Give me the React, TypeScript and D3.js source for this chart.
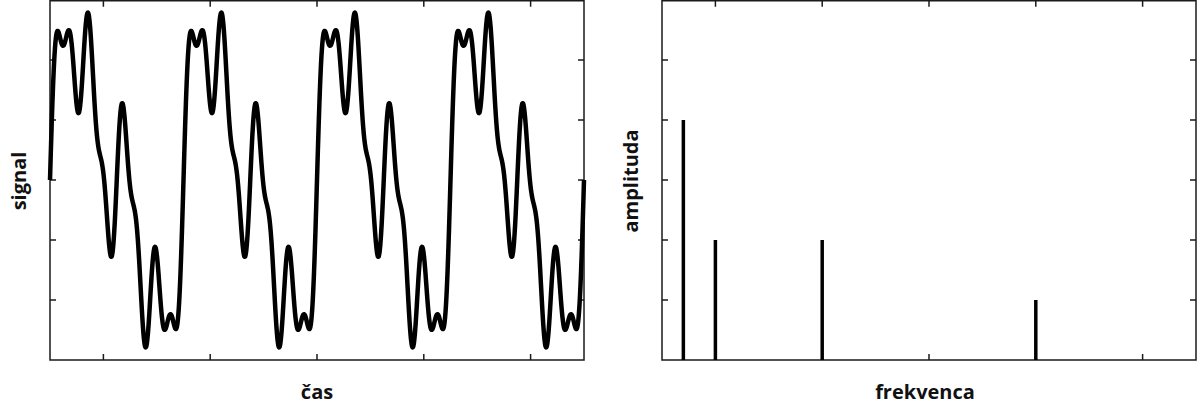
import * as React from 'react';
import * as d3 from 'd3';

// signal = sum of sines: harmonics of the base frequency and their amplitudes
const baseFreq = 4; // cycles over the time window
const harmonics = [1, 2, 4, 8];
const harmonicAmps = [4, 2, 2, 1];

// spectrum spikes as drawn on the right
const spectrumFreqs = [4, 10, 30, 70];
const spectrumAmps = [4, 2, 2, 1];

const timeTicks = [0.1, 0.3, 0.5, 0.7, 0.9];
const signalTicks = [-4, -2, 0, 2, 4];
const freqTicks = [10, 30, 50, 70, 90];
const ampTicks = [1, 2, 3, 4, 5];

const W = 1200, H = 414;
const top = 0.75, bottom = 360;
const leftPanel = { x0: 50, x1: 584 };
const rightPanel = { x0: 662, x1: 1196 };
const font = '"Open Sans", "DejaVu Sans", sans-serif';

function Frame({ x0, x1, xs, ys, xScale, yScale }: any) {
  const tl = 6;
  return (
    <g stroke="#1a1a1a" strokeWidth={1.5} fill="none">
      <rect x={x0} y={top} width={x1 - x0} height={bottom - top} />
      {xs.map((t: number, i: number) => (
        <g key={'x' + i}>
          <line x1={xScale(t)} x2={xScale(t)} y1={bottom} y2={bottom - tl} />
          <line x1={xScale(t)} x2={xScale(t)} y1={top} y2={top + tl} />
        </g>
      ))}
      {ys.map((t: number, i: number) => (
        <g key={'y' + i}>
          <line x1={x0} x2={x0 + tl} y1={yScale(t)} y2={yScale(t)} />
          <line x1={x1} x2={x1 - tl} y1={yScale(t)} y2={yScale(t)} />
        </g>
      ))}
    </g>
  );
}

export default function App() {
  const xTime = d3.scaleLinear().domain([0, 1]).range([leftPanel.x0, leftPanel.x1]);
  const ySig = d3.scaleLinear().domain([-6, 6]).range([bottom, 0]);
  const xFreq = d3.scaleLinear().domain([0, 100]).range([rightPanel.x0, rightPanel.x1]);
  const yAmp = d3.scaleLinear().domain([0, 6]).range([bottom, 0]);

  const times = d3.range(0, 1.0005, 0.0005);
  const signal = times.map(t => [
    t,
    d3.sum(harmonics, (h, i) => harmonicAmps[i] * Math.sin(2 * Math.PI * baseFreq * h * t)),
  ]);
  const line = d3.line<number[]>().x(d => xTime(d[0])).y(d => ySig(d[1])).curve(d3.curveLinear);

  const labelStyle = { fontFamily: font, fontWeight: 700, fontSize: 20, fill: '#111' } as any;

  return (
    <svg width={W} height={H} style={{ position: 'absolute', left: 0, top: 0, background: '#fff' }}>
      <rect width={W} height={H} fill="#fff" />

      {/* left: signal in time */}
      <Frame {...leftPanel} xs={timeTicks} ys={signalTicks} xScale={xTime} yScale={ySig} />
      <path d={line(signal)!} fill="none" stroke="#000" strokeWidth={4.5} strokeLinejoin="round" />
      <text {...labelStyle} x={(leftPanel.x0 + leftPanel.x1) / 2} y={399} textAnchor="middle">čas</text>
      <text {...labelStyle} transform={`translate(26,181) rotate(-90)`} textAnchor="middle">signal</text>

      {/* right: amplitude spectrum */}
      <Frame {...rightPanel} xs={freqTicks} ys={ampTicks} xScale={xFreq} yScale={yAmp} />
      {spectrumFreqs.map((f, i) => (
        <line key={i} x1={xFreq(f)} x2={xFreq(f)} y1={yAmp(0)} y2={yAmp(spectrumAmps[i])}
          stroke="#000" strokeWidth={3.5} />
      ))}
      <text {...labelStyle} x={(rightPanel.x0 + rightPanel.x1) / 2 - 4} y={399} textAnchor="middle">frekvenca</text>
      <text {...labelStyle} transform={`translate(638,181) rotate(-90)`} textAnchor="middle">amplituda</text>
    </svg>
  );
}
